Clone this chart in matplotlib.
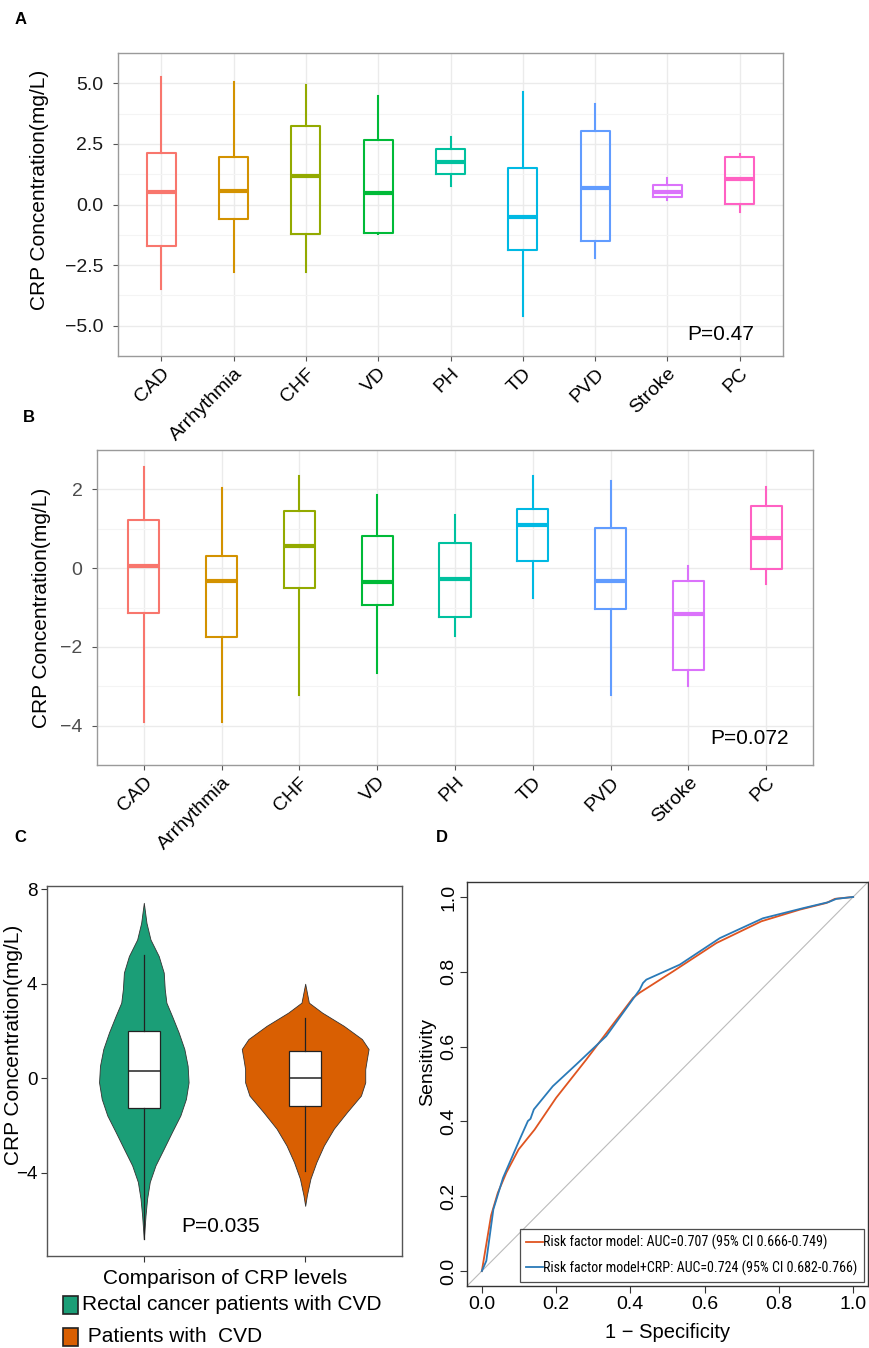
import matplotlib
matplotlib.use('Agg')
import matplotlib.pyplot as plt
import numpy as np
from matplotlib.patches import Rectangle
from matplotlib import font_manager as fm

plt.rcParams['font.family'] = ['Liberation Sans', 'DejaVu Sans']

W, H = 870, 1348

# ---------------- data ----------------
categories = ['CAD', 'Arrhythmia', 'CHF', 'VD', 'PH', 'TD', 'PVD', 'Stroke', 'PC']
cat_colors = ['#F8766D', '#D39200', '#93AA00', '#00BA38', '#00C19F',
              '#00B9E3', '#619CFF', '#DB72FB', '#FF61C3']

a_whishi = [5.25, 5.07, 4.93, 4.47, 2.78, 4.63, 4.14, 1.09, 2.09]
a_q3 = [2.14, 1.95, 3.23, 2.66, 2.27, 1.52, 3.04, 0.82, 1.94]
a_med = [0.52, 0.57, 1.19, 0.46, 1.77, -0.51, 0.68, 0.53, 1.07]
a_q1 = [-1.70, -0.59, -1.21, -1.18, 1.25, -1.89, -1.52, 0.33, 0.02]
a_whislo = [-3.50, -2.80, -2.80, -1.22, 0.76, -4.58, -2.19, 0.17, -0.31]
a_yticks = [-5.0, -2.5, 0.0, 2.5, 5.0]
a_ptext = 'P=0.47'

b_whishi = [2.56, 2.03, 2.33, 1.86, 1.36, 2.34, 2.22, 0.045, 2.05]
b_q3 = [1.23, 0.30, 1.45, 0.81, 0.64, 1.51, 1.02, -0.32, 1.57]
b_med = [0.045, -0.33, 0.56, -0.34, -0.28, 1.10, -0.33, -1.17, 0.77]
b_q1 = [-1.14, -1.74, -0.51, -0.93, -1.25, 0.19, -1.03, -2.58, -0.01]
b_whislo = [-3.92, -3.92, -3.22, -2.67, -1.72, -0.75, -3.22, -3.00, -0.40]
b_yticks = [-4, -2, 0, 2]
b_ptext = 'P=0.072'

groups_c = ['Rectal cancer patients with CVD', ' Patients with  CVD']
colors_c = ['#1B9E77', '#D95F02']
green_y = [7.42, 6.57, 5.87, 5.17, 4.47, 3.77, 3.20, 2.64, 1.94, 1.24, 0.53, -0.17,
           -0.87, -1.57, -2.27, -2.98, -3.68, -4.38, -5.08, -5.79, -6.80]
green_dens = [0, .042, .105, .235, .314, .330, .356, .444, .549, .639, .691, .706,
              .664, .576, .444, .314, .184, .094, .052, .027, 0]
orange_y = [4.00, 3.20, 2.78, 2.22, 1.66, 1.24, 0.82, 0.39, -0.17, -0.73, -1.43,
            -2.13, -2.84, -3.54, -4.24, -4.94, -5.39]
orange_dens = [0, .058, .267, .608, .895, 1.0, .973, .947, .947, .879, .659,
               .451, .294, .177, .083, .027, 0]
c_q3 = [1.98, 1.17]
c_med = [0.31, 0.00]
c_q1 = [-1.26, -1.17]
c_whishi = [5.22, 2.53]
c_whislo = [-6.80, -3.93]
c_yticks = [-4, 0, 4, 8]
c_ptext = 'P=0.035'
c_xlabel = 'Comparison of CRP levels'

roc1_fpr = [0, 0.025, 0.043, 0.066, 0.099, 0.142, 0.200, 0.281, 0.407, 0.425,
            0.515, 0.632, 0.753, 0.856, 0.928, 0.951, 1.0]
roc1_tpr = [0, 0.149, 0.209, 0.263, 0.325, 0.378, 0.463, 0.565, 0.730, 0.744,
            0.801, 0.877, 0.935, 0.966, 0.984, 0.995, 1.0]
roc2_fpr = [0, 0.012, 0.031, 0.057, 0.102, 0.124, 0.131, 0.140, 0.191, 0.254,
            0.335, 0.425, 0.434, 0.443, 0.533, 0.641, 0.757, 0.865, 0.933, 0.955, 1.0]
roc2_tpr = [0, 0.027, 0.165, 0.249, 0.352, 0.401, 0.407, 0.432, 0.494, 0.552,
            0.628, 0.752, 0.770, 0.779, 0.819, 0.890, 0.943, 0.970, 0.986, 0.995, 1.0]
roc_labels = ['Risk factor model: AUC=0.707 (95% CI 0.666-0.749)',
              'Risk factor model+CRP: AUC=0.724 (95% CI 0.682-0.766)']
roc_colors = ['#DF5420', '#2A7AB8']
d_ticks = [0.0, 0.2, 0.4, 0.6, 0.8, 1.0]

# ---------------- helpers ----------------
fig = plt.figure(figsize=(W / 100, H / 100), dpi=100)
renderer = fig.canvas.get_renderer()


def add_ax(l, r, t, b):
    return fig.add_axes([l / W, 1 - b / H, (r - l) / W, (b - t) / H])


def ftext(x, y, s, **kw):
    return fig.text(x / W, 1 - y / H, s, **kw)


def pick_narrow_font():
    fl = fm.fontManager.ttflist
    for want in ['Liberation Sans Narrow', 'Arial Narrow', 'Roboto Condensed',
                 'Open Sans Condensed', 'Noto Sans Condensed']:
        for f in fl:
            if f.name == want and f.weight in (400, 'normal', 'regular') and f.style == 'normal':
                return fm.FontProperties(fname=f.fname)
    for f in fl:
        if f.name == 'DejaVu Sans' and 'Condensed' in f.fname and 'Bold' not in f.fname \
                and 'Oblique' not in f.fname:
            return fm.FontProperties(fname=f.fname)
    for f in fl:
        if ('Narrow' in f.fname or 'Condensed' in f.fname) and 'Bold' not in f.fname \
                and 'Italic' not in f.fname and 'Oblique' not in f.fname:
            return fm.FontProperties(fname=f.fname)
    return fm.FontProperties(family='Liberation Sans')


def fit_size(fp, text, target_px, base=10.0):
    fp2 = fp.copy()
    fp2.set_size(base)
    t = fig.text(0, 0, text, fontproperties=fp2)
    w = t.get_window_extent(renderer=renderer).width
    t.remove()
    return base * target_px / w


def box_panel(ax, whishi, q3, med, q1, whislo, yticks, ytick_color):
    pos = np.arange(1, len(categories) + 1)
    for i, c in enumerate(cat_colors):
        st = [dict(med=med[i], q1=q1[i], q3=q3[i], whislo=whislo[i], whishi=whishi[i])]
        ax.bxp(st, positions=[pos[i]], widths=0.4, showfliers=False, showcaps=False,
               boxprops=dict(color=c, lw=1.5), whiskerprops=dict(color=c, lw=1.5),
               medianprops=dict(color=c, lw=3.0, solid_capstyle='butt'), zorder=3)
    lo, hi = min(whislo), max(whishi)
    pad = 0.05 * (hi - lo)
    ax.set_ylim(lo - pad, hi + pad)
    ax.set_xlim(0.4, len(categories) + 0.6)
    ax.set_xticks(pos)
    ax.set_xticklabels(categories, rotation=45, ha='right', va='top',
                       rotation_mode='anchor', fontsize=14, color='black')
    ax.set_yticks(yticks)
    ax.set_yticklabels([('%.1f' % v if isinstance(v, float) else '%d' % v).replace('-', '\u2212')
                        for v in yticks], fontsize=14, color=ytick_color)
    step = yticks[1] - yticks[0]
    minor = [yticks[0] - step / 2] + [(yticks[k] + yticks[k + 1]) / 2
                                      for k in range(len(yticks) - 1)] + [yticks[-1] + step / 2]
    ax.set_yticks(minor, minor=True)
    ax.tick_params(axis='y', which='minor', length=0)
    ax.grid(True, which='major', color='#EBEBEB', lw=1.0, zorder=0)
    ax.grid(True, which='minor', axis='y', color='#F4F4F4', lw=0.8, zorder=0)
    ax.set_axisbelow(True)
    for s in ax.spines.values():
        s.set_color('#9A9A9A')
        s.set_linewidth(1.0)
    ax.tick_params(axis='both', which='major', length=3.5, color='#555555', width=0.8)
    ax.tick_params(axis='y', pad=7)
    ax.tick_params(axis='x', pad=3)


# ---------------- Panel A ----------------
axA = add_ax(118, 783, 53, 356)
box_panel(axA, a_whishi, a_q3, a_med, a_q1, a_whislo, a_yticks, '#1A1A1A')
ftext(40, 190, 'CRP Concentration(mg/L)', rotation=90, ha='center', va='center', fontsize=15)
ftext(687, 335, a_ptext, ha='left', va='center', fontsize=15)
ftext(21, 20, 'A', ha='center', va='center', fontsize=12, fontweight='bold')

# ---------------- Panel B ----------------
axB = add_ax(97, 813, 450, 765)
box_panel(axB, b_whishi, b_q3, b_med, b_q1, b_whislo, b_yticks, '#4D4D4D')
ftext(42, 608, 'CRP Concentration(mg/L)', rotation=90, ha='center', va='center', fontsize=15)
ftext(710, 738, b_ptext, ha='left', va='center', fontsize=15)
ftext(29, 417, 'B', ha='center', va='center', fontsize=12, fontweight='bold')

# ---------------- Panel C ----------------
axC = add_ax(47, 402, 886, 1256)
half_max = 0.393
for i, (yy, dd) in enumerate([(green_y, green_dens), (orange_y, orange_dens)]):
    yy = np.array(yy)
    dd = np.array(dd) * half_max
    axC.fill_betweenx(yy, i + 1 - dd, i + 1 + dd, facecolor=colors_c[i],
                      edgecolor='#333333', lw=0.6, zorder=2)
stats_c = [dict(med=c_med[i], q1=c_q1[i], q3=c_q3[i], whislo=c_whislo[i],
                whishi=c_whishi[i]) for i in range(2)]
axC.bxp(stats_c, positions=[1, 2], widths=0.2, showfliers=False, showcaps=False,
        patch_artist=True,
        boxprops=dict(facecolor='white', edgecolor='#222222', lw=0.9),
        whiskerprops=dict(color='#222222', lw=0.9),
        medianprops=dict(color='#222222', lw=1.1), zorder=3)
lo = min(min(green_y), min(orange_y))
hi = max(max(green_y), max(orange_y))
pad = 0.05 * (hi - lo)
axC.set_ylim(lo - pad, hi + pad)
axC.set_xlim(0.4, 2.6)
axC.set_xticks([1, 2])
axC.set_xticklabels(['', ''])
axC.set_yticks(c_yticks)
axC.set_yticklabels([str(v).replace('-', '\u2212') for v in c_yticks], fontsize=13.5)
axC.tick_params(axis='both', length=4, color='#333333', width=0.8, pad=3)
for s in axC.spines.values():
    s.set_color('#555555')
    s.set_linewidth(1.0)
ftext(14, 1045, 'CRP Concentration(mg/L)', rotation=90, ha='center', va='center', fontsize=15)
ftext(221, 1227, c_ptext, ha='center', va='center', fontsize=15)
ftext(225, 1279, c_xlabel, ha='center', va='center', fontsize=15)
for k, (lab, col) in enumerate(zip(groups_c, colors_c)):
    yc = [1305, 1337][k]
    fig.add_artist(Rectangle((63 / W, 1 - (yc + 9) / H), 15 / W, 18 / H,
                             transform=fig.transFigure, facecolor=col,
                             edgecolor='#222222', lw=1.2))
    ftext(82, yc, lab, ha='left', va='center', fontsize=15)
ftext(20, 837, 'C', ha='center', va='center', fontsize=12, fontweight='bold')

# ---------------- Panel D ----------------
axD = add_ax(467, 868, 882, 1286)
axD.axline((0, 0), slope=1, color='#BBBBBB', lw=0.8, zorder=1)
handles = []
for fx, ty, col, lab in zip([roc1_fpr, roc2_fpr], [roc1_tpr, roc2_tpr], roc_colors, roc_labels):
    h, = axD.plot(fx, ty, color=col, lw=1.3, zorder=3, label=lab)
    handles.append(h)
axD.set_xlim(-0.04, 1.04)
axD.set_ylim(-0.04, 1.04)
axD.set_xticks(d_ticks)
axD.set_yticks(d_ticks)
axD.set_xticklabels(['%.1f' % v for v in d_ticks], fontsize=14)
axD.set_yticklabels(['%.1f' % v for v in d_ticks], fontsize=14, rotation=90, va='center')
axD.tick_params(axis='both', length=5, width=0.8, color='#333333')
axD.tick_params(axis='x', pad=2)
axD.tick_params(axis='y', pad=2)
for s in axD.spines.values():
    s.set_color('#333333')
    s.set_linewidth(1.0)

legfp = pick_narrow_font()
legsize = fit_size(legfp, roc_labels[1], 312)
legfp.set_size(legsize)
leg = axD.legend(handles=handles, loc='lower right', bbox_to_anchor=(1.0, 0.0),
                 borderaxespad=0.3, frameon=True, fancybox=False, edgecolor='#222222',
                 handlelength=1.2, handletextpad=0.0, borderpad=0.45, labelspacing=0.7,
                 prop=legfp)
leg.get_frame().set_linewidth(0.9)
ftext(428, 1062, 'Sensitivity', rotation=90, ha='center', va='center', fontsize=14)
ftext(668, 1332, '1 \u2212 Specificity', ha='center', va='center', fontsize=14.5)
ftext(442, 837, 'D', ha='center', va='center', fontsize=12, fontweight='bold')

fig.savefig('out.png', dpi=100)
